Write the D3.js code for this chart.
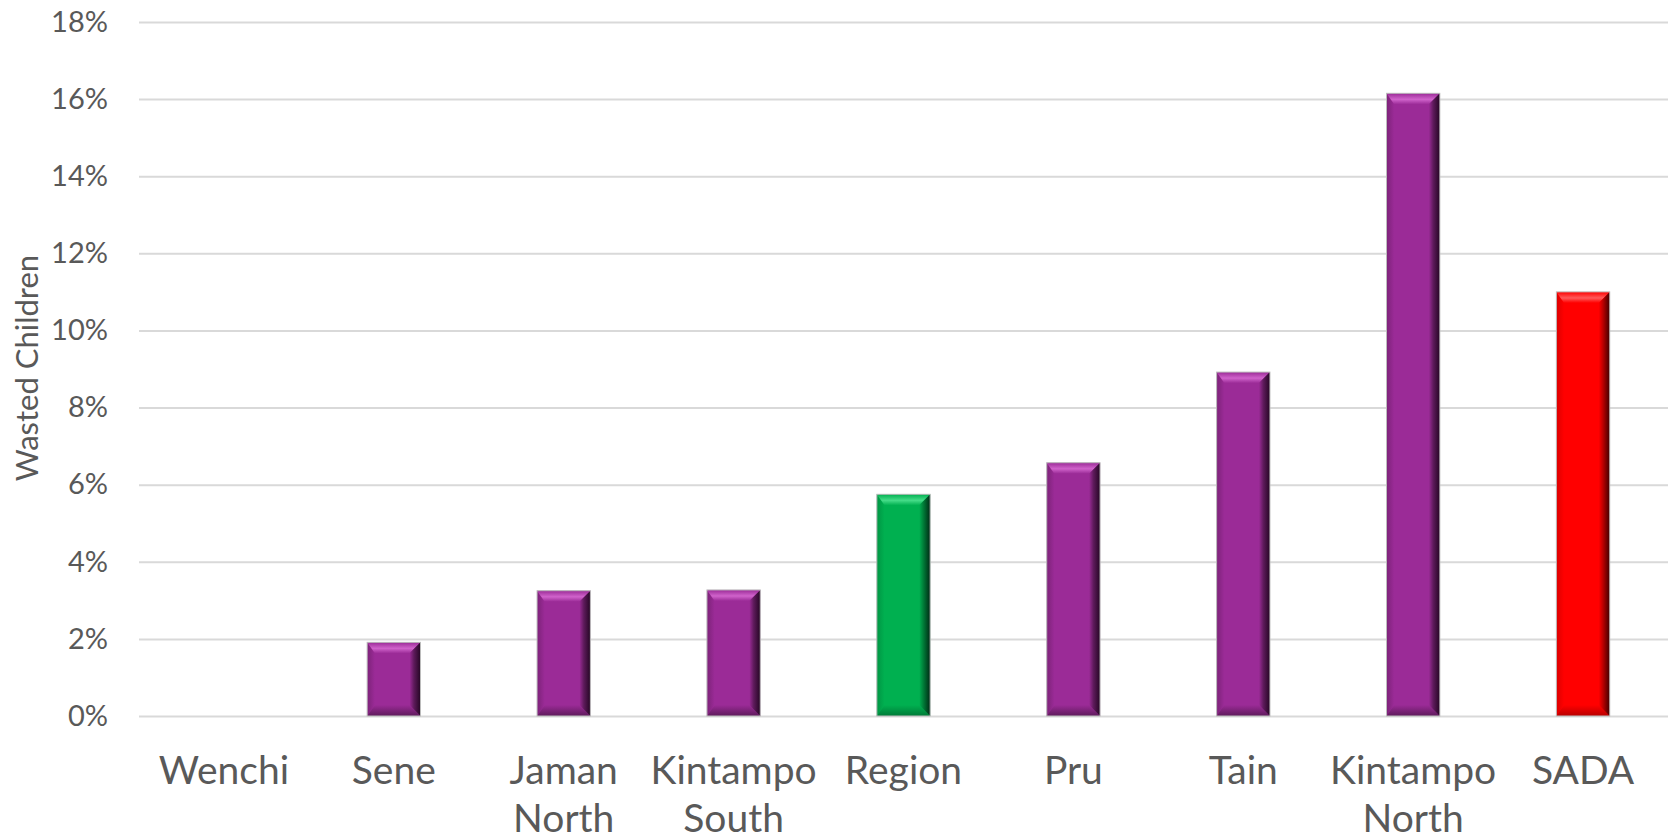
<!DOCTYPE html>
<html>
<head>
<meta charset="utf-8">
<script src="https://cdn.jsdelivr.net/npm/d3@7"></script>
<style>
  html, body { margin: 0; padding: 0; background: #fff; }
  svg { display: block; }
</style>
</head>
<body>
<svg id="chart" width="1673" height="840"></svg>
<script>
// Share of wasted children by district
const categories = ["Wenchi", "Sene", "Jaman North", "Kintampo South", "Region", "Pru", "Tain", "Kintampo North", "SADA"];
const values = [0, 1.91, 3.25, 3.27, 5.75, 6.57, 8.92, 16.15, 11.0];
const barKinds = ["district", "district", "district", "district", "region", "district", "district", "district", "sada"];
const yTicks = [0, 2, 4, 6, 8, 10, 12, 14, 16, 18];
const yTitle = "Wasted Children";

const palette = {
  district: { base: "#9b2b97", light: "#d063cb", dark: "#5e1a5b", deep: "#250624" },
  region:   { base: "#00b050", light: "#45dc88", dark: "#007a37", deep: "#002a14" },
  sada:     { base: "#ff0000", light: "#ff5a5a", dark: "#b80000", deep: "#400000" }
};

const svg = d3.select("#chart");
const plot = { left: 139, right: 1668, top: 22, bottom: 716 };
const font = "Lato, 'Open Sans', sans-serif";
const textColor = "#595959";

const x = d3.scaleBand().domain(categories).range([plot.left, plot.right]).paddingInner(0.686).paddingOuter(0.343);
const y = d3.scaleLinear().domain([0, 18]).range([plot.bottom, plot.top]);

// gradients for the bevel faces
const defs = svg.append("defs");
Object.entries(palette).forEach(([k, c]) => {
  const gr = defs.append("linearGradient").attr("id", "right-" + k).attr("x1", 0).attr("x2", 1).attr("y1", 0).attr("y2", 0);
  gr.append("stop").attr("offset", "0%").attr("stop-color", c.base);
  gr.append("stop").attr("offset", "40%").attr("stop-color", c.dark);
  gr.append("stop").attr("offset", "100%").attr("stop-color", c.deep);
  const gt = defs.append("linearGradient").attr("id", "top-" + k).attr("x1", 0).attr("x2", 0).attr("y1", 0).attr("y2", 1);
  gt.append("stop").attr("offset", "0%").attr("stop-color", c.base);
  gt.append("stop").attr("offset", "55%").attr("stop-color", c.light);
  gt.append("stop").attr("offset", "100%").attr("stop-color", c.base);
  const gb = defs.append("linearGradient").attr("id", "bottom-" + k).attr("x1", 0).attr("x2", 0).attr("y1", 0).attr("y2", 1);
  gb.append("stop").attr("offset", "0%").attr("stop-color", c.base);
  gb.append("stop").attr("offset", "100%").attr("stop-color", c.dark);
  const gl = defs.append("linearGradient").attr("id", "left-" + k).attr("x1", 0).attr("x2", 1).attr("y1", 0).attr("y2", 0);
  gl.append("stop").attr("offset", "0%").attr("stop-color", c.dark);
  gl.append("stop").attr("offset", "100%").attr("stop-color", c.base);
});

// horizontal gridlines
svg.append("g").attr("class", "grid")
  .attr("transform", `translate(${plot.left},0)`)
  .call(d3.axisLeft(y).tickValues(yTicks).tickSize(-(plot.right - plot.left)).tickFormat(""))
  .call(g => g.select(".domain").remove())
  .call(g => g.selectAll("line").attr("stroke", "#d9d9d9").attr("stroke-width", 2));

// y tick labels
svg.append("g").attr("class", "y-axis")
  .attr("transform", `translate(${plot.left - 31},0)`)
  .call(d3.axisLeft(y).tickValues(yTicks).tickSize(0).tickPadding(0).tickFormat(d => d + "%"))
  .call(g => g.select(".domain").remove())
  .call(g => g.selectAll("text").attr("fill", textColor).attr("font-family", font).attr("font-size", 29));

// y axis title
svg.append("text")
  .attr("transform", `translate(38,${(plot.top + plot.bottom) / 2 - 1}) rotate(-90)`)
  .attr("text-anchor", "middle")
  .attr("fill", textColor)
  .attr("font-family", font)
  .attr("font-size", 31)
  .text(yTitle);

// bars with bevelled faces
const bars = svg.append("g").attr("class", "bars")
  .selectAll("g").data(categories.map((c, i) => ({ c, v: values[i], k: barKinds[i] })).filter(d => d.v > 0))
  .join("g");

bars.each(function (d) {
  const g = d3.select(this);
  const x0 = x(d.c), w = x.bandwidth();
  const y0 = y(d.v), h = y(0) - y(d.v);
  const b = Math.min(11, h / 2);
  const c = palette[d.k];
  const x1 = x0 + w, y1 = y0 + h;
  g.append("rect").attr("x", x0).attr("y", y0).attr("width", w).attr("height", h).attr("fill", c.base);
  g.append("polygon").attr("points", [[x0, y0], [x0 + b * 0.7, y0 + b], [x0 + b * 0.7, y1 - b], [x0, y1]].join(" ")).attr("fill", `url(#left-${d.k})`).attr("opacity", 0.5);
  g.append("polygon").attr("points", [[x0, y0], [x1, y0], [x1 - b, y0 + b], [x0 + b * 0.7, y0 + b]].join(" ")).attr("fill", `url(#top-${d.k})`);
  g.append("polygon").attr("points", [[x0, y1], [x1, y1], [x1 - b, y1 - b], [x0 + b * 0.7, y1 - b]].join(" ")).attr("fill", `url(#bottom-${d.k})`);
  g.append("polygon").attr("points", [[x1, y0], [x1, y1], [x1 - b, y1 - b], [x1 - b, y0 + b]].join(" ")).attr("fill", `url(#right-${d.k})`);
  g.append("rect").attr("x", x0).attr("y", y0).attr("width", w).attr("height", h)
    .attr("fill", "none").attr("stroke", "#bdbdbd").attr("stroke-width", 1);
});

// category labels, wrapped onto two lines
const xl = svg.append("g").attr("class", "x-labels");
categories.forEach(c => {
  const words = c.split(" ");
  const cx = x(c) + x.bandwidth() / 2;
  const t = xl.append("text")
    .attr("x", cx)
    .attr("y", 784)
    .attr("text-anchor", "middle")
    .attr("fill", textColor)
    .attr("font-family", font)
    .attr("font-size", 39);
  words.forEach((wd, i) => {
    t.append("tspan").attr("x", cx).attr("dy", i === 0 ? 0 : 48).text(wd);
  });
});
</script>
</body>
</html>
